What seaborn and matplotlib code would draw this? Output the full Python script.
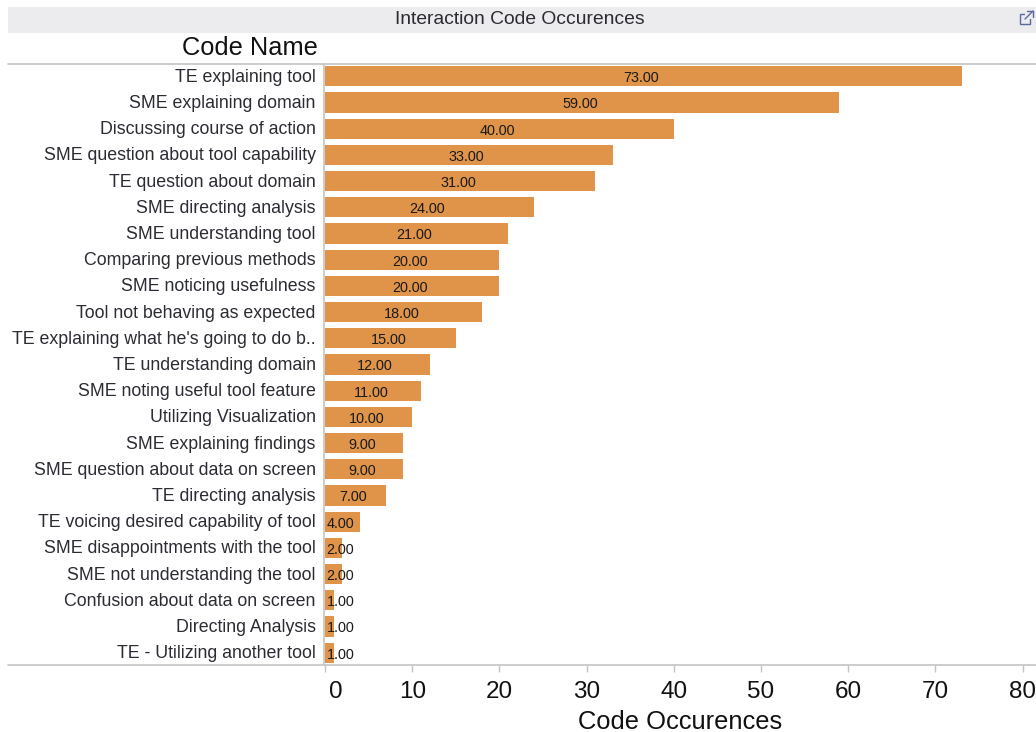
import matplotlib
matplotlib.use("Agg")
import matplotlib.pyplot as plt
from matplotlib.lines import Line2D
from matplotlib.patches import Rectangle
from matplotlib.transforms import ScaledTranslation
import pandas as pd
import seaborn as sns

code_names = [
    "TE explaining tool", "SME explaining domain", "Discussing course of action",
    "SME question about tool capability", "TE question about domain",
    "SME directing analysis", "SME understanding tool", "Comparing previous methods",
    "SME noticing usefulness", "Tool not behaving as expected",
    "TE explaining what he's going to do b..", "TE understanding domain",
    "SME noting useful tool feature", "Utilizing Visualization", "SME explaining findings",
    "SME question about data on screen", "TE directing analysis",
    "TE voicing desired capability of tool", "SME disappointments with the tool",
    "SME not understanding the tool", "Confusion about data on screen",
    "Directing Analysis", "TE - Utilizing another tool",
]
occurrences = [73, 59, 40, 33, 31, 24, 21, 20, 20, 18, 15, 12, 11, 10, 9, 9, 7, 4, 2, 2, 1, 1, 1]
x_ticks = [0, 10, 20, 30, 40, 50, 60, 70, 80]

W, H = 1036, 732
BAR = "#DF944A"
RULE = "#C4C4C4"
INK = "#2B2B33"

sns.set_theme(style="white")
plt.rcParams["font.family"] = ["Liberation Sans", "DejaVu Sans"]

fig = plt.figure(figsize=(W / 100, H / 100), dpi=100, facecolor="white")
ax = fig.add_axes([325 / W, 1 - 665 / H, (W - 325) / W, 601 / H])

df = pd.DataFrame({"code": code_names, "count": occurrences})
sns.barplot(data=df, y="code", x="count", color=BAR, saturation=1, width=0.765,
            linewidth=0, orient="h", ax=ax)
ax.set_xlim(0, (W - 325) / 8.72)
ax.set_ylim(22.47, -0.47)

sns.despine(ax=ax, top=True, right=True, bottom=True, left=False)
ax.spines["left"].set_color(RULE)
ax.spines["left"].set_linewidth(1.2)
ax.spines["left"].set_position(("outward", 0.7))

ax.set_xticks(x_ticks)
ax.tick_params(axis="x", bottom=True, length=5, width=1, color=RULE, pad=6.5,
               labelsize=17.5, labelcolor="#111111")
ax.tick_params(axis="y", left=False, pad=0, labelsize=12.8, labelcolor=INK)
ax.set_ylabel("")
ax.set_xlabel("Code Occurences", fontsize=18.4, color="#111111", labelpad=5, x=0.5)

# Category labels sit a pixel high; the zero tick label is nudged clear of the axis line
for lab in ax.get_yticklabels():
    lab.set_transform(lab.get_transform() + ScaledTranslation(0, 1 / 100, fig.dpi_scale_trans))
zero_label = ax.get_xticklabels()[0]
zero_label.set_transform(zero_label.get_transform() + ScaledTranslation(11 / 100, 0, fig.dpi_scale_trans))

# Value labels: centred inside long bars, left-aligned at the axis for short ones
for i, v in enumerate(occurrences):
    if v >= 7:
        ax.annotate(f"{v:.2f}", (v / 2, i), xytext=(-1.5, -1.4), textcoords="offset points",
                    ha="center", va="center", fontsize=10.4, color="#1A1A1A")
    else:
        ax.annotate(f"{v:.2f}", (0, i), xytext=(1.2, -1.4), textcoords="offset points",
                    ha="left", va="center", fontsize=10.4, color="#1A1A1A")

# Title band, column header and horizontal rules on the figure
fig.add_artist(Rectangle((8 / W, 1 - 33 / H), (W - 8) / W, 26 / H, transform=fig.transFigure,
                         facecolor="#ECECEE", edgecolor="none", zorder=0))
fig.text(520 / W, 1 - 20 / H, "Interaction Code Occurences", ha="center", va="center",
         fontsize=13.9, color=INK)
fig.text(318 / W, 1 - 48 / H, "Code Name", ha="right", va="center", fontsize=18.3, color="#111111")
for y in (64, 665):
    fig.add_artist(Line2D([8 / W, 1], [1 - y / H, 1 - y / H], transform=fig.transFigure,
                          color=RULE, lw=1.2))

# Pop-out icon in the title band
icon = "#5B6A9E"
fig.add_artist(Rectangle((1020 / W, 1 - 24 / H), 10 / W, 10 / H, transform=fig.transFigure,
                         facecolor="none", edgecolor=icon, lw=1))
fig.add_artist(Rectangle((1025 / W, 1 - 19 / H), 8 / W, 8 / H, transform=fig.transFigure,
                         facecolor="#ECECEE", edgecolor="none"))
fig.add_artist(Line2D([1025 / W, 1033 / W], [1 - 19 / H, 1 - 11 / H], transform=fig.transFigure,
                      color=icon, lw=1))
fig.add_artist(Line2D([1027 / W, 1033 / W, 1033 / W], [1 - 11 / H, 1 - 11 / H, 1 - 17 / H],
                      transform=fig.transFigure, color=icon, lw=1))

fig.savefig("out.png", dpi=100)
